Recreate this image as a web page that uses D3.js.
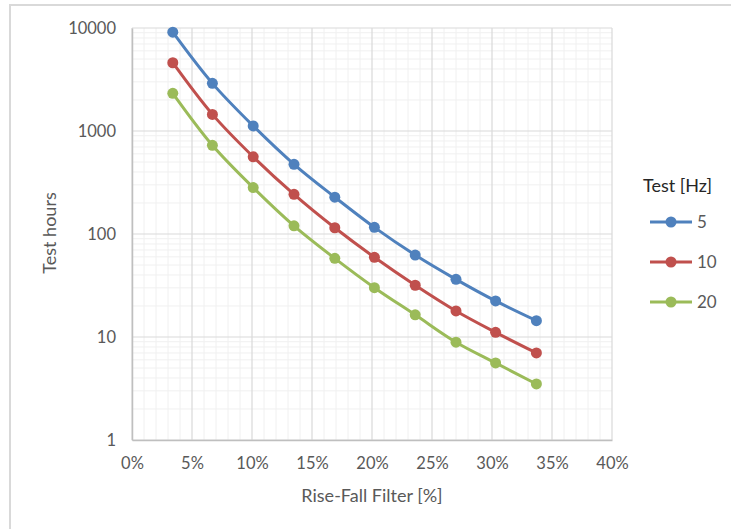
<!DOCTYPE html>
<html>
<head>
<meta charset="utf-8">
<script src="https://cdn.jsdelivr.net/npm/d3@7"></script>
<style>
  body { margin: 0; background: #fff; }
  svg text { font-family: Lato, "Open Sans", sans-serif; fill: #595959; }
</style>
</head>
<body>
<div id="chart"></div>
<script>
// data
const filterPct = [3.4, 6.7, 10.1, 13.5, 16.9, 20.2, 23.6, 27.0, 30.3, 33.7];
const hours5 = [9100, 2900, 1120, 475, 228, 116, 62.5, 36.3, 22.4, 14.4];
const hours10 = [4600, 1450, 562, 243, 115, 59.4, 31.8, 17.9, 11.1, 7.0];
const hours20 = [2320, 726, 282, 120, 58, 30.1, 16.4, 8.9, 5.6, 3.5];
const seriesNames = ['5', '10', '20'];
const xTicks = [0, 5, 10, 15, 20, 25, 30, 35, 40];
const yTicks = [1, 10, 100, 1000, 10000];

const colors = ['#4F81BD', '#C0504D', '#9BBB59'];
const allSeries = [hours5, hours10, hours20];

const width = 731, height = 529;
const margins = { top: 28, bottom: 89, left: 132, right: 119 };

const svg = d3.select('#chart').append('svg')
    .attr('width', width)
    .attr('height', height);

// outer chart border
svg.append('rect')
    .attr('x', 10).attr('y', 5)
    .attr('width', 740).attr('height', 540)
    .attr('fill', 'none')
    .attr('stroke', '#d9d9d9')
    .attr('stroke-width', 2);

const xScale = d3.scaleLinear()
    .domain([0, 40])
    .range([margins.left, width - margins.right]);

const yScale = d3.scaleLog()
    .domain([1, 10000])
    .range([height - margins.bottom, margins.top]);

const grid = svg.append('g');

// minor gridlines
const xMinor = d3.range(0, 41, 1).filter(d => d % 5 !== 0);
const yMinor = [];
for (let dec = 1; dec < 10000; dec *= 10) {
    for (let m = 2; m < 10; m++) yMinor.push(dec * m);
}

grid.selectAll('.x-minor').data(xMinor).join('line')
    .attr('x1', d => xScale(d)).attr('x2', d => xScale(d))
    .attr('y1', yScale(1)).attr('y2', yScale(10000))
    .attr('stroke', '#f0f0f0').attr('stroke-width', 1);

grid.selectAll('.y-minor').data(yMinor).join('line')
    .attr('x1', xScale(0)).attr('x2', xScale(40))
    .attr('y1', d => yScale(d)).attr('y2', d => yScale(d))
    .attr('stroke', '#f0f0f0').attr('stroke-width', 1);

// major gridlines
grid.selectAll('.x-major').data(xTicks).join('line')
    .attr('x1', d => xScale(d)).attr('x2', d => xScale(d))
    .attr('y1', yScale(1)).attr('y2', yScale(10000))
    .attr('stroke', '#d9d9d9').attr('stroke-width', 1.2);

grid.selectAll('.y-major').data(yTicks).join('line')
    .attr('x1', xScale(0)).attr('x2', xScale(40))
    .attr('y1', d => yScale(d)).attr('y2', d => yScale(d))
    .attr('stroke', '#d9d9d9').attr('stroke-width', 1.2);

// axes
const xAxisGroup = svg.append('g')
    .attr('transform', `translate(0,${yScale(1)})`)
    .call(d3.axisBottom(xScale).tickValues(xTicks).tickFormat(d => d + '%').tickSize(0).tickPadding(17));

const yAxisGroup = svg.append('g')
    .attr('transform', `translate(${xScale(0)},0)`)
    .call(d3.axisLeft(yScale).tickValues(yTicks).tickFormat(d3.format('d')).tickSize(0).tickPadding(16));

xAxisGroup.select('.domain').attr('stroke', '#bfbfbf').attr('stroke-width', 1.5);
yAxisGroup.select('.domain').attr('stroke', '#bfbfbf').attr('stroke-width', 1.5);
svg.selectAll('.tick text').style('font-size', '16.5px');

// axis titles
svg.append('text')
    .attr('x', (xScale(0) + xScale(40)) / 2)
    .attr('y', 502)
    .attr('text-anchor', 'middle')
    .style('font-size', '18px')
    .text('Rise-Fall Filter [%]');

svg.append('text')
    .attr('transform', `translate(56,233) rotate(-90)`)
    .attr('text-anchor', 'middle')
    .style('font-size', '18px')
    .text('Test hours');

// lines
const lineGenerator = d3.line()
    .x((d, i) => xScale(filterPct[i]))
    .y(d => yScale(d))
    .curve(d3.curveCatmullRom);

allSeries.forEach((values, s) => {
    svg.append('path')
        .datum(values)
        .attr('fill', 'none')
        .attr('stroke', colors[s])
        .attr('stroke-width', 3)
        .attr('d', lineGenerator);

    svg.selectAll(`.pt-${s}`).data(values).join('circle')
        .attr('cx', (d, i) => xScale(filterPct[i]))
        .attr('cy', d => yScale(d))
        .attr('r', 5.5)
        .attr('fill', colors[s]);
});

// legend
const legend = svg.append('g').attr('transform', 'translate(650,0)');

legend.append('text')
    .attr('x', -7).attr('y', 192)
    .style('font-size', '18px')
    .style('fill', '#262626')
    .text('Test [Hz]');

seriesNames.forEach((name, i) => {
    const y = 222 + i * 40;
    legend.append('line')
        .attr('x1', 0).attr('x2', 42)
        .attr('y1', y).attr('y2', y)
        .attr('stroke', colors[i])
        .attr('stroke-width', 3);
    legend.append('circle')
        .attr('cx', 21).attr('cy', y).attr('r', 5.5)
        .attr('fill', colors[i]);
    legend.append('text')
        .attr('x', 47).attr('y', y)
        .attr('dy', '0.35em')
        .style('font-size', '17px')
        .text(name);
});
</script>
</body>
</html>
